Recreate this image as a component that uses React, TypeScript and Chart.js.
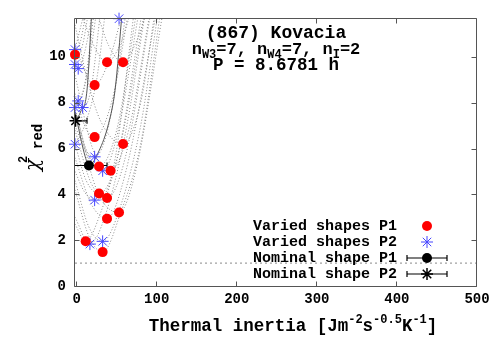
import React, { useEffect, useRef } from 'react';
import { Chart, registerables } from 'chart.js';

Chart.register(...registerables);

const MONO = "'Liberation Mono', 'DejaVu Sans Mono', monospace";

// Axis ranges / ticks
const xRange = [-2, 500];
const yRange = [0, 11.7];
const xTicks = [0, 100, 200, 300, 400, 500];
const yTicks = [0, 2, 4, 6, 8, 10];

// Varied shapes P1 (red circles)
const p1X = [-2, 38, 58, 22.5, 22.5, 58, 28, 42.5, 28, 38, 53, 38, 11.3, 32.5];
const p1Y = [10.1, 9.77, 9.77, 8.77, 6.5, 6.2, 5.22, 5.03, 4.04, 3.84, 3.21, 2.94, 1.95, 1.48];

// Varied shapes P2 (blue stars)
const p2X = [53, -2, -2, 2, 2, -2, 7.5, -2, 22.5, 32.5, 22.5, 16.6, 32.5];
const p2Y = [11.67, 10.32, 9.67, 9.49, 8.08, 7.79, 7.79, 6.19, 5.64, 5.03, 3.75, 1.83, 1.95];

// Nominal shapes (value, error bar low/high)
const nomP1 = { x: 15.4, y: 5.26, lo: -8, hi: 38 };
const nomP2 = { x: -1.3, y: 7.21, lo: -8, hi: 13 };

// chi2 curves of varied shapes (dotted)
const curvesP1: number[][][] = [
  [[-2, 10.1], [5, 10.7], [12, 12]],
  [[5, 12], [20, 10.6], [38, 9.77], [55, 10.6], [68, 12]],
  [[25, 12], [40, 10.5], [58, 9.77], [75, 10.7], [88, 12]],
  [[-2, 10.4], [22.5, 8.77], [40, 9.8], [58, 12]],
  [[-2, 8.4], [10, 7.0], [22.5, 6.5], [45, 8.2], [65, 12]],
  [[-2, 11.4], [15, 8.8], [30, 7.2], [58, 6.2], [80, 8.0], [98, 12]],
  [[-2, 7.6], [12, 5.8], [28, 5.22], [50, 6.8], [75, 12]],
  [[-2, 9.2], [20, 6.0], [42.5, 5.03], [65, 6.8], [92, 12]],
  [[-2, 6.2], [12, 4.6], [28, 4.04], [50, 5.5], [82, 12]],
  [[-2, 6.8], [18, 4.5], [38, 3.84], [60, 5.5], [93, 12]],
  [[-2, 7.8], [25, 4.2], [53, 3.21], [75, 5.2], [108, 12]],
  [[-2, 5.6], [18, 3.6], [38, 2.94], [60, 4.8], [100, 12]],
  [[-2, 2.7], [11.3, 1.95], [30, 3.2], [55, 6.2], [85, 12]],
  [[-2, 4.2], [15, 2.2], [32.5, 1.48], [55, 3.2], [80, 6.2], [105, 12]],
];
const curvesP2: number[][][] = [
  [[38, 12], [53, 11.67], [66, 12]],
  [[-2, 10.32], [10, 12]],
  [[-2, 9.67], [8, 10.6], [15, 12]],
  [[-2, 9.6], [2, 9.49], [10, 10.2], [20, 12]],
  [[-2, 8.2], [2, 8.08], [12, 9.0], [25, 12]],
  [[-2, 7.79], [10, 8.8], [22, 12]],
  [[-2, 8.1], [7.5, 7.79], [18, 8.6], [30, 12]],
  [[-2, 6.19], [10, 7.0], [25, 9.0], [36, 12]],
  [[-2, 7.0], [10, 6.0], [22.5, 5.64], [40, 7.0], [62, 12]],
  [[-2, 7.6], [15, 5.7], [32.5, 5.03], [50, 6.5], [78, 12]],
  [[-2, 5.0], [10, 4.1], [22.5, 3.75], [45, 5.0], [72, 12]],
  [[-2, 3.0], [16.6, 1.83], [35, 3.0], [60, 6.5], [86, 12]],
  [[-2, 4.6], [15, 2.6], [32.5, 1.95], [55, 3.5], [80, 7.0], [102, 12]],
];
// chi2 curves of nominal shapes (solid)
const nomCurveP1 = [[-2, 7.6], [10.8, 5.64], [15.4, 5.26], [28, 5.9], [40, 7.1], [48, 8.55], [57, 12]];
const nomCurveP2 = [[-1.3, 7.21], [5, 7.6], [13, 8.55], [19, 12]];

// reference level
const refLevel = 1;

const legendLabels = ['Varied shapes P1', 'Varied shapes P2', 'Nominal shape P1', 'Nominal shape P2'];

const RED = '#ff0000';
const BLUE = '#4646ff';

type Seg = { t: string; size: number; dy: number; family?: string };

function richWidth(ctx: CanvasRenderingContext2D, segs: Seg[]) {
  let w = 0;
  for (const s of segs) {
    ctx.font = `bold ${s.size}px ${s.family || MONO}`;
    w += ctx.measureText(s.t).width;
  }
  return w;
}
function drawRich(ctx: CanvasRenderingContext2D, segs: Seg[], x: number, y: number, align: 'left' | 'center') {
  const w = richWidth(ctx, segs);
  let cx = align === 'center' ? x - w / 2 : x;
  ctx.textAlign = 'left';
  ctx.textBaseline = 'alphabetic';
  for (const s of segs) {
    ctx.font = `bold ${s.size}px ${s.family || MONO}`;
    ctx.fillText(s.t, cx, y + s.dy);
    cx += ctx.measureText(s.t).width;
  }
}

function drawStar(ctx: CanvasRenderingContext2D, x: number, y: number, r: number) {
  ctx.beginPath();
  ctx.moveTo(x - r, y); ctx.lineTo(x + r, y);
  ctx.moveTo(x, y - r); ctx.lineTo(x, y + r);
  const d = r * Math.SQRT1_2;
  ctx.moveTo(x - d, y - d); ctx.lineTo(x + d, y + d);
  ctx.moveTo(x - d, y + d); ctx.lineTo(x + d, y - d);
  ctx.stroke();
}

const decor = {
  id: 'decor',
  beforeDatasetsDraw(chart: any) {
    const { ctx, chartArea: a, scales } = chart;
    const xs = scales.x, ys = scales.y;
    ctx.save();
    ctx.beginPath();
    ctx.rect(a.left, a.top, a.right - a.left, a.bottom - a.top);
    ctx.clip();
    ctx.strokeStyle = '#000';
    ctx.lineWidth = 1.2;
    for (const n of [nomP1, nomP2]) {
      const py = ys.getPixelForValue(n.y);
      const x1 = xs.getPixelForValue(n.lo), x2 = xs.getPixelForValue(n.hi);
      ctx.beginPath();
      ctx.moveTo(x1, py); ctx.lineTo(x2, py);
      ctx.moveTo(x1, py - 3); ctx.lineTo(x1, py + 3);
      ctx.moveTo(x2, py - 3); ctx.lineTo(x2, py + 3);
      ctx.stroke();
    }
    ctx.restore();
  },
  afterDraw(chart: any) {
    const { ctx, chartArea: a, scales } = chart;
    const xs = scales.x, ys = scales.y;
    ctx.save();
    // frame
    ctx.strokeStyle = '#555';
    ctx.lineWidth = 1;
    const L = a.left - 0.5, R = a.right - 0.5, T = a.top + 0.5, B = a.bottom + 0.5;
    ctx.beginPath();
    ctx.moveTo(L, T); ctx.lineTo(R, T); ctx.lineTo(R, B); ctx.lineTo(L, B); ctx.closePath();
    ctx.stroke();
    // inward ticks (mirrored)
    ctx.beginPath();
    for (const v of xTicks) {
      const px = Math.round(xs.getPixelForValue(v)) - 0.5;
      ctx.moveTo(px, B); ctx.lineTo(px, B - 5);
      ctx.moveTo(px, T); ctx.lineTo(px, T + 5);
    }
    for (const v of yTicks) {
      const py = Math.round(ys.getPixelForValue(v)) + 0.5;
      ctx.moveTo(L, py); ctx.lineTo(L + 5, py);
      ctx.moveTo(R, py); ctx.lineTo(R - 5, py);
    }
    ctx.stroke();

    ctx.fillStyle = '#000';
    // title block
    const cx = (a.left + a.right) / 2;
    drawRich(ctx, [{ t: '(867) Kovacia', size: 18, dy: 0 }], cx, 38, 'center');
    drawRich(ctx, [
      { t: 'n', size: 17, dy: 0 }, { t: 'W3', size: 12, dy: 4 },
      { t: '=7, n', size: 17, dy: 0 }, { t: 'W4', size: 12, dy: 4 },
      { t: '=7, n', size: 17, dy: 0 }, { t: 'I', size: 12, dy: 4 },
      { t: '=2', size: 17, dy: 0 },
    ], cx, 54, 'center');
    drawRich(ctx, [{ t: 'P = 8.6781 h', size: 17.5, dy: 0 }], cx, 70, 'center');

    // x axis title
    drawRich(ctx, [
      { t: 'Thermal inertia [Jm', size: 17.5, dy: 0 }, { t: '-2', size: 12, dy: -8 },
      { t: 's', size: 17.5, dy: 0 }, { t: '-0.5', size: 12, dy: -8 },
      { t: 'K', size: 17.5, dy: 0 }, { t: '-1', size: 12, dy: -8 },
      { t: ']', size: 17.5, dy: 0 },
    ], 293, 331, 'center');

    // y axis title (rotated)
    ctx.save();
    ctx.translate(39, 171);
    ctx.rotate(-Math.PI / 2);
    ctx.textAlign = 'left';
    ctx.textBaseline = 'alphabetic';
    ctx.font = `italic 20px 'DejaVu Serif', serif`;
    ctx.fillText('χ', 0, 0);
    ctx.font = `bold 12px ${MONO}`;
    ctx.fillText('2', 8, -12);
    ctx.font = `bold 14px ${MONO}`;
    ctx.fillText('red', 22, 3);
    ctx.restore();

    // legend
    ctx.font = `bold 15px ${MONO}`;
    ctx.textAlign = 'right';
    ctx.textBaseline = 'middle';
    const rows = [226, 242, 258, 274];
    const mx = 427;
    legendLabels.forEach((lab, i) => ctx.fillText(lab, 397, rows[i]));
    // symbols
    ctx.fillStyle = RED;
    ctx.beginPath(); ctx.arc(mx, rows[0], 5, 0, Math.PI * 2); ctx.fill();
    ctx.strokeStyle = BLUE; ctx.lineWidth = 1;
    drawStar(ctx, mx, rows[1], 6);
    ctx.strokeStyle = '#000'; ctx.lineWidth = 1.2;
    for (const r of [rows[2], rows[3]]) {
      ctx.beginPath();
      ctx.moveTo(407, r); ctx.lineTo(447, r);
      ctx.moveTo(407, r - 3); ctx.lineTo(407, r + 3);
      ctx.moveTo(447, r - 3); ctx.lineTo(447, r + 3);
      ctx.stroke();
    }
    ctx.fillStyle = '#000';
    ctx.beginPath(); ctx.arc(mx, rows[2], 5, 0, Math.PI * 2); ctx.fill();
    ctx.lineWidth = 1.5;
    drawStar(ctx, mx, rows[3], 6);
    ctx.restore();
  },
};

export default function App() {
  const ref = useRef<HTMLCanvasElement>(null);
  useEffect(() => {
    if (!ref.current) return;
    const toPts = (arr: number[][]) => arr.map(([x, y]) => ({ x, y }));
    const curveDs = (arr: number[][], solid: boolean) => ({
      type: 'scatter',
      data: toPts(arr),
      showLine: true,
      pointRadius: 0,
      borderColor: solid ? '#555' : '#8c8c8c',
      borderWidth: 1,
      borderDash: solid ? [] : [1, 2],
      cubicInterpolationMode: 'monotone',
      tension: 0.4,
      order: 10,
    });
    const datasets: any[] = [
      {
        data: p1X.map((x, i) => ({ x, y: p1Y[i] })),
        pointStyle: 'circle', pointRadius: 5, backgroundColor: RED, borderColor: RED, borderWidth: 0,
        clip: false, order: 1,
      },
      {
        data: p2X.map((x, i) => ({ x, y: p2Y[i] })),
        pointStyle: 'star', pointRadius: 6, backgroundColor: BLUE, borderColor: BLUE, borderWidth: 1,
        clip: false, order: 1,
      },
      {
        data: [{ x: nomP1.x, y: nomP1.y }],
        pointStyle: 'circle', pointRadius: 5, backgroundColor: '#000', borderColor: '#000', borderWidth: 0,
        clip: false, order: 0,
      },
      {
        data: [{ x: nomP2.x, y: nomP2.y }],
        pointStyle: 'star', pointRadius: 6, backgroundColor: '#000', borderColor: '#000', borderWidth: 1.5,
        clip: false, order: 0,
      },
      {
        data: [{ x: xRange[0], y: refLevel }, { x: xRange[1], y: refLevel }],
        showLine: true, pointRadius: 0, borderColor: '#888', borderWidth: 1, borderDash: [2, 3], order: 9,
      },
      curveDs(nomCurveP1, true),
      curveDs(nomCurveP2, true),
      ...curvesP1.map((c) => curveDs(c, false)),
      ...curvesP2.map((c) => curveDs(c, false)),
    ];
    const chart = new Chart(ref.current, {
      type: 'scatter',
      data: { datasets },
      plugins: [decor],
      options: {
        animation: false,
        responsive: false,
        layout: { padding: { top: 18, right: 23, left: 0, bottom: 0 } },
        plugins: { legend: { display: false }, tooltip: { enabled: false } },
        scales: {
          x: {
            type: 'linear',
            min: xRange[0], max: xRange[1],
            grid: { display: false, drawTicks: false },
            border: { display: false },
            afterBuildTicks: (s: any) => { s.ticks = xTicks.map((v) => ({ value: v })); },
            afterFit: (s: any) => { s.height = 64; },
            ticks: {
              color: '#000', padding: 5, maxRotation: 0,
              font: { family: MONO, size: 14, weight: 'bold' },
              callback: (v: any) => String(v),
            },
          },
          y: {
            type: 'linear',
            min: yRange[0], max: yRange[1],
            grid: { display: false, drawTicks: false },
            border: { display: false },
            afterBuildTicks: (s: any) => { s.ticks = yTicks.map((v) => ({ value: v })); },
            afterFit: (s: any) => { s.width = 75; },
            ticks: {
              color: '#000', padding: 9,
              font: { family: MONO, size: 14, weight: 'bold' },
              callback: (v: any) => String(v),
            },
          },
        },
      } as any,
    } as any);
    return () => chart.destroy();
  }, []);
  return (
    <div style={{ position: 'fixed', left: 0, top: 0, width: 500, height: 350, background: '#fff' }}>
      <canvas ref={ref} width={500} height={350} style={{ width: 500, height: 350, display: 'block' }} />
    </div>
  );
}
